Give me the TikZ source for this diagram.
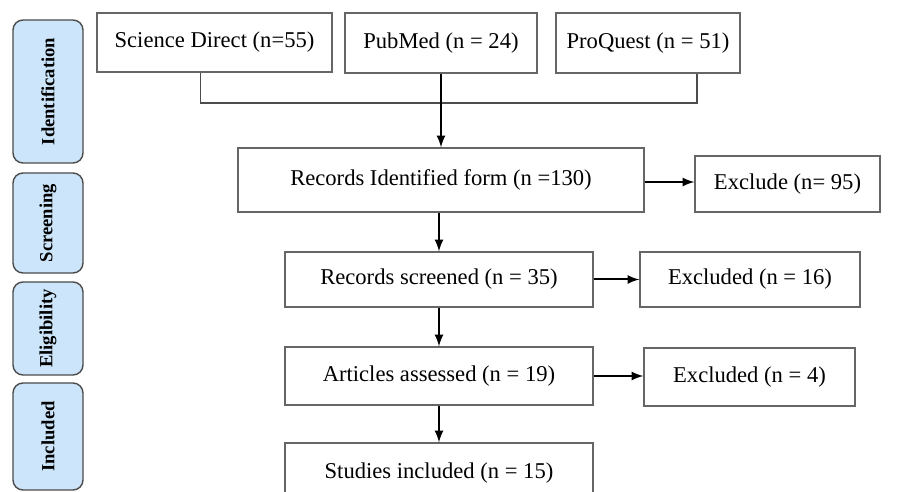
\documentclass[tikz,border=0pt]{standalone}
\usepackage{fontspec}
\setmainfont{Liberation Serif}
\usetikzlibrary{arrows}
\definecolor{stageblue}{RGB}{204,229,250}

\begin{document}
\begin{tikzpicture}[x=0.5pt, y=-0.5pt,
    box/.style={draw=black!60, line width=0.7pt, inner sep=0pt,
      font=\fontsize{11.3}{13}\selectfont},
    stage/.style={draw=black!70, line width=0.7pt, fill=stageblue, rounded corners=5pt,
      rotate=90, inner sep=0pt, minimum height=35pt,
      font=\bfseries\fontsize{9.3}{10}\selectfont},
    line/.style={draw=black!70, line width=0.8pt},
    arrow/.style={draw=black, line width=1pt, -latex}]
  \useasboundingbox (0,0) rectangle (902,492);
  \clip (0,0) rectangle (902,492);

  % stages on the left
  \node (ident) [stage, minimum width=71.5pt] at (48,91.5) {Identification};
  \node (screen) [stage, minimum width=50pt] at (48,223) {Screening};
  \node (elig) [stage, minimum width=46.5pt] at (48,328.5) {Eligibility};
  \node (incl) [stage, minimum width=53.5pt] at (48,436.5) {Included};

  % databases
  \node (sd) [box, minimum width=117.5pt, minimum height=29.5pt] at (214.5,42.5) {Science Direct (n=55)};
  \node (pm) [box, minimum width=96pt, minimum height=30pt] at (441,43) {PubMed (n = 24)};
  \node (pq) [box, minimum width=92pt, minimum height=30pt] at (648,43) {ProQuest (n = 51)};

  % main flow
  \node (rid) [box, minimum width=203pt, minimum height=32pt] at (441,180) {Records Identified form (n =130)};
  \node (rsc) [box, minimum width=154pt, minimum height=27.5pt] at (439,279.5) {Records screened (n = 35)};
  \node (art) [box, minimum width=154pt, minimum height=29pt] at (439,376) {Articles assessed (n = 19)};
  \node (stu) [box, minimum width=154pt, minimum height=30pt] at (439,473) {Studies included (n = 15)};

  % exclusions
  \node (ex1) [box, minimum width=92.5pt, minimum height=28pt] at (787.5,184) {Exclude (n= 95)};
  \node (ex2) [box, minimum width=110pt, minimum height=27.5pt] at (750,279.5) {Excluded (n = 16)};
  \node (ex3) [box, minimum width=105.5pt, minimum height=29pt] at (749.5,377) {Excluded (n = 4)};

  % connectors
  \coordinate (join) at (441,103);
  \draw[line] ([xshift=-7pt]sd.south) |- (join) -| ([xshift=24.5pt]pq.south);
  \draw[arrow] (pm.south) -- (rid.north);
  \draw[arrow] ([yshift=-1pt]rid.east) -- ([yshift=-1pt]rid.east -| ex1.west);
  \draw[arrow] (rid.south -| rsc.north) -- (rsc.north);
  \draw[arrow] (rsc.east) -- (rsc.east -| ex2.west);
  \draw[arrow] (rsc.south) -- (art.north);
  \draw[arrow] (art.east) -- (art.east -| ex3.west);
  \draw[arrow] (art.south) -- (stu.north);
\end{tikzpicture}
\end{document}
